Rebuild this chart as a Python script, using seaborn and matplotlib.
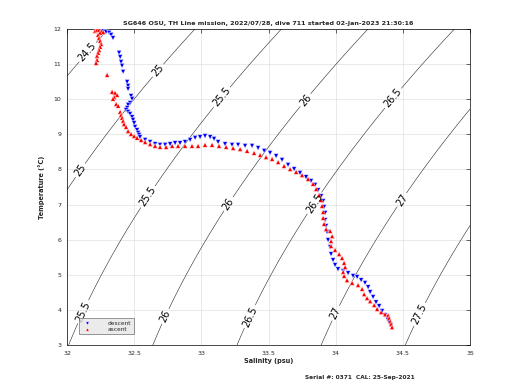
import numpy as np
import pandas as pd
import seaborn as sns
import matplotlib
matplotlib.use("Agg")
import matplotlib.pyplot as plt

# descent profile (salinity psu, temperature C)
desc_s = [32.246, 32.268, 32.290, 32.313, 32.328, 32.342, 32.387, 32.395, 32.402, 32.409,
          32.417, 32.447, 32.454, 32.454, 32.476, 32.484, 32.469, 32.454, 32.447, 32.439,
          32.454, 32.469, 32.484, 32.491, 32.499, 32.506, 32.521, 32.529, 32.536, 32.543,
          32.581, 32.618, 32.655, 32.692, 32.730, 32.767, 32.804, 32.841, 32.878, 32.916,
          32.953, 32.990, 33.027, 33.065, 33.094, 33.124, 33.176, 33.228, 33.273, 33.325,
          33.377, 33.422, 33.467, 33.511, 33.556, 33.600, 33.645, 33.690, 33.734, 33.779,
          33.816, 33.846, 33.868, 33.891, 33.906, 33.913, 33.921, 33.921, 33.928, 33.935,
          33.943, 33.958, 33.965, 33.980, 33.995, 34.017, 34.055, 34.092, 34.129, 34.159,
          34.189, 34.218, 34.241, 34.256, 34.278, 34.300, 34.323, 34.345, 34.367, 34.382,
          34.397, 34.412]
desc_t = [11.97, 11.94, 11.91, 11.89, 11.83, 11.74, 11.32, 11.20, 11.06, 10.95,
          10.78, 10.49, 10.38, 10.29, 10.09, 10.01, 9.89, 9.84, 9.75, 9.69,
          9.64, 9.58, 9.49, 9.41, 9.32, 9.21, 9.12, 9.04, 8.98, 8.92,
          8.84, 8.78, 8.72, 8.70, 8.70, 8.72, 8.75, 8.75, 8.78, 8.84,
          8.90, 8.92, 8.95, 8.92, 8.87, 8.78, 8.72, 8.70, 8.70, 8.67,
          8.67, 8.61, 8.53, 8.47, 8.38, 8.27, 8.13, 8.01, 7.90, 7.78,
          7.67, 7.56, 7.41, 7.24, 7.10, 6.93, 6.76, 6.56, 6.39, 6.22,
          5.99, 5.79, 5.59, 5.42, 5.28, 5.16, 5.11, 5.05, 4.97, 4.94,
          4.85, 4.77, 4.65, 4.51, 4.37, 4.22, 4.11, 3.97, 3.85, 3.77,
          3.66, 3.57]

# ascent profile
asc_s = [32.208, 32.223, 32.238, 32.253, 32.268, 32.246, 32.231, 32.238, 32.246, 32.253,
         32.246, 32.238, 32.231, 32.223, 32.223, 32.216, 32.298, 32.335, 32.357, 32.372,
         32.350, 32.342, 32.365, 32.380, 32.395, 32.402, 32.409, 32.417, 32.424, 32.439,
         32.454, 32.476, 32.499, 32.521, 32.551, 32.581, 32.618, 32.655, 32.692, 32.737,
         32.782, 32.826, 32.878, 32.930, 32.975, 33.027, 33.079, 33.131, 33.184, 33.236,
         33.288, 33.340, 33.392, 33.437, 33.481, 33.526, 33.571, 33.615, 33.660, 33.705,
         33.749, 33.794, 33.831, 33.854, 33.876, 33.891, 33.898, 33.906, 33.906, 33.913,
         33.928, 33.958, 33.973, 33.965, 33.965, 33.995, 34.025, 34.047, 34.062, 34.070,
         34.055, 34.062, 34.084, 34.122, 34.166, 34.196, 34.211, 34.233, 34.256, 34.286,
         34.308, 34.338, 34.367, 34.390, 34.397, 34.405, 34.412, 34.419]
asc_t = [11.94, 11.97, 11.97, 11.94, 11.91, 11.89, 11.83, 11.74, 11.66, 11.57,
         11.49, 11.40, 11.32, 11.23, 11.12, 11.03, 10.69, 10.21, 10.18, 10.12,
         10.06, 10.01, 9.86, 9.81, 9.64, 9.55, 9.47, 9.38, 9.29, 9.21,
         9.09, 9.01, 8.95, 8.90, 8.84, 8.78, 8.72, 8.67, 8.64, 8.64,
         8.67, 8.67, 8.67, 8.67, 8.67, 8.70, 8.70, 8.67, 8.64, 8.61,
         8.58, 8.53, 8.47, 8.41, 8.35, 8.30, 8.21, 8.10, 8.01, 7.93,
         7.84, 7.73, 7.59, 7.44, 7.27, 7.13, 6.96, 6.79, 6.62, 6.45,
         6.30, 6.25, 6.10, 5.96, 5.82, 5.71, 5.59, 5.48, 5.34, 5.22,
         5.08, 4.97, 4.85, 4.77, 4.71, 4.60, 4.45, 4.34, 4.25, 4.14,
         4.03, 3.94, 3.88, 3.85, 3.77, 3.68, 3.60, 3.51]

sigma_levels = [24.5, 25, 25.5, 26, 26.5, 27, 27.5]

title = "SG646 OSU, TH Line mission, 2022/07/28, dive 711 started 02-Jan-2023 21:30:16"
footer = "Serial #: 0371  CAL: 25-Sep-2021"

df = pd.concat([
    pd.DataFrame({"S": desc_s, "T": desc_t, "cast": "descent"}),
    pd.DataFrame({"S": asc_s, "T": asc_t, "cast": "ascent"}),
], ignore_index=True)


def sigma0(S, T):
    # UNESCO EOS-80 at surface pressure
    rw = (999.842594 + 6.793952e-2 * T - 9.095290e-3 * T**2 + 1.001685e-4 * T**3
          - 1.120083e-6 * T**4 + 6.536332e-9 * T**5)
    A = 8.24493e-1 - 4.0899e-3 * T + 7.6438e-5 * T**2 - 8.2467e-7 * T**3 + 5.3875e-9 * T**4
    B = -5.72466e-3 + 1.0227e-4 * T - 1.6546e-6 * T**2
    C = 4.8314e-4
    return rw + A * S + B * S**1.5 + C * S**2 - 1000


sns.set_style("white")
plt.rcParams["font.family"] = ["DejaVu Sans"]

fig = plt.figure(figsize=(5.2, 3.9), dpi=100)
ax = fig.add_axes([0.129, 0.115, 0.775, 0.811])

sg, tg = np.meshgrid(np.linspace(32, 35, 200), np.linspace(3, 12, 200))
cs = ax.contour(sg, tg, sigma0(sg, tg), levels=sigma_levels, colors="0.15", linewidths=0.4)
label_pos = [(32.134, 11.40), (32.655, 10.89), (32.097, 7.98), (33.176, 9.98), (32.603, 7.22),
             (32.12, 3.95), (33.772, 9.98), (33.213, 6.99), (32.715, 3.85), (34.442, 9.98),
             (33.831, 7.07), (33.385, 3.77), (34.494, 7.13), (34.017, 3.88), (34.665, 3.80)]
ax.clabel(cs, fmt="%g", fontsize=7, manual=label_pos, inline=True, inline_spacing=2,
          colors="k")

sns.scatterplot(data=df, x="S", y="T", hue="cast", style="cast",
                markers={"descent": "v", "ascent": "^"},
                palette={"descent": "blue", "ascent": "red"},
                s=12, linewidth=0.3, ax=ax, zorder=3)

ax.set_xlim(32, 35)
ax.set_ylim(3, 12)
ax.set_xticks(np.arange(32, 35.01, 0.5))
ax.set_xticklabels(["32", "32.5", "33", "33.5", "34", "34.5", "35"])
ax.set_yticks(range(3, 13))
ax.grid(True, color="0.88", linewidth=0.5)
ax.set_axisbelow(True)
ax.tick_params(direction="in", length=3, width=0.5, labelsize=4.5, top=True, right=True, pad=4)
for sp in ax.spines.values():
    sp.set_linewidth(0.5)
    sp.set_color("k")

ax.set_title(title, fontsize=4.6, fontweight="bold", pad=3)
ax.set_xlabel("Salinity (psu)", fontsize=4.7, fontweight="bold", labelpad=2)
ax.set_ylabel("Temperature (°C)", fontsize=4.7, fontweight="bold", labelpad=6)

leg = ax.legend(loc="lower left", fontsize=4.2, markerscale=0.7, frameon=True,
                bbox_to_anchor=(0.022, 0.025), borderpad=0.45, handletextpad=2.5,
                labelspacing=0.1, fancybox=False)
leg.get_frame().set_facecolor("0.9")
leg.get_frame().set_edgecolor("0.3")
leg.get_frame().set_linewidth(0.5)
leg.set_zorder(5)

fig.text(0.692, 0.031, footer, fontsize=4.2, fontweight="bold", ha="center", va="center")

fig.savefig("out.png", dpi=100)
